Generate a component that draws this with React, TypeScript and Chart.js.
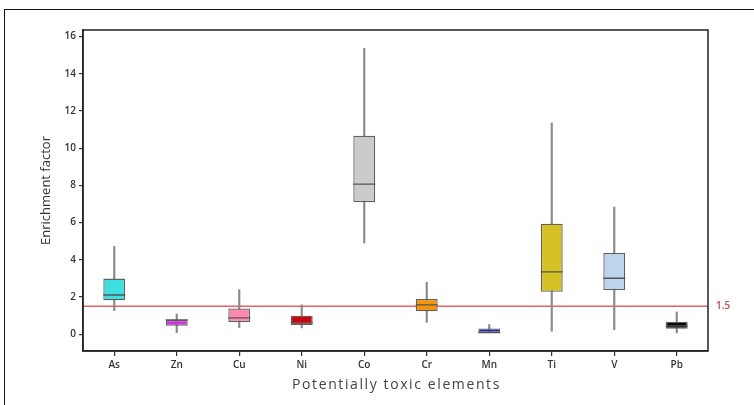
import React, { useEffect, useRef } from "react";
import { Chart, registerables } from "chart.js";

Chart.register(...registerables);

const categories = ["As", "Zn", "Cu", "Ni", "Co", "Cr", "Mn", "Ti", "V", "Pb"];
const whiskerLow = [1.27, 0.09, 0.36, 0.34, 4.9, 0.64, 0.09, 0.16, 0.25, 0.07];
const q1 = [1.83, 0.46, 0.66, 0.5, 7.1, 1.23, 0.09, 2.28, 2.38, 0.29];
const medians = [2.11, 0.77, 0.88, 0.64, 8.07, 1.58, 0.09, 3.35, 3.01, 0.45];
const q3 = [2.99, 0.77, 1.38, 1.0, 10.67, 1.9, 0.31, 5.94, 4.37, 0.67];
const whiskerHigh = [4.72, 1.09, 2.4, 1.58, 15.37, 2.79, 0.52, 11.35, 6.84, 1.2];
const boxColors = [
  "#3fdfe0",
  "#d42fe0",
  "#ff89ad",
  "#d0000e",
  "#cbcbcb",
  "#f5930b",
  "#2b2bbd",
  "#d4c224",
  "#bed3ec",
  "#0a0a0a",
];
const yTickValues = [0, 2, 4, 6, 8, 10, 12, 14, 16];
const thresholdValue = 1.5;
const thresholdLabel = "1.5";
const xTitle = "Potentially toxic elements";
const yTitle = "Enrichment factor";

const FONT = "'Open Sans', 'Noto Sans', sans-serif";

export default function App() {
  const canvasRef = useRef<HTMLCanvasElement | null>(null);

  useEffect(() => {
    document.body.style.margin = "0";
    const canvas = canvasRef.current;
    if (!canvas) return;

    const thresholdPlugin = {
      id: "thresholdLine",
      beforeDatasetsDraw(chart: any) {
        const { ctx, chartArea, scales } = chart;
        const y = scales.y.getPixelForValue(thresholdValue);
        ctx.save();
        ctx.strokeStyle = "#e46464";
        ctx.lineWidth = 1.5;
        ctx.beginPath();
        ctx.moveTo(chartArea.left, y);
        ctx.lineTo(chartArea.right, y);
        ctx.stroke();
        ctx.restore();
      },
      afterDraw(chart: any) {
        const { ctx, chartArea, scales } = chart;
        const y = scales.y.getPixelForValue(thresholdValue);
        ctx.save();
        ctx.strokeStyle = "#222";
        ctx.lineWidth = 1.5;
        ctx.strokeRect(
          chartArea.left,
          chartArea.top,
          chartArea.right - chartArea.left,
          chartArea.bottom - chartArea.top
        );
        ctx.fillStyle = "#b8504c";
        ctx.font = `600 10px ${FONT}`;
        ctx.textBaseline = "middle";
        ctx.textAlign = "left";
        ctx.fillText(thresholdLabel, chartArea.right + 8, y);

        // x-axis title with letter spacing
        ctx.fillStyle = "#444";
        ctx.font = `500 14px ${FONT}`;
        (ctx as any).letterSpacing = "1.6px";
        ctx.textAlign = "center";
        ctx.textBaseline = "middle";
        ctx.fillText(xTitle, (chartArea.left + chartArea.right) / 2 + 1, chartArea.bottom + 34);
        (ctx as any).letterSpacing = "0px";
        ctx.restore();
      },
    };

    const chart = new Chart(canvas, {
      type: "bar",
      data: {
        labels: categories,
        datasets: [
          {
            type: "line",
            label: "median",
            data: medians,
            showLine: false,
            pointStyle: "line",
            pointRadius: 11,
            pointHoverRadius: 11,
            pointBorderWidth: 1.3,
            pointBorderColor: "#555",
            borderColor: "#555",
            order: 1,
          } as any,
          {
            type: "bar",
            label: "box",
            data: categories.map((_, i) => [q1[i], q3[i]]),
            backgroundColor: boxColors,
            borderColor: "#606060",
            borderWidth: 1.3,
            borderSkipped: false,
            grouped: false,
            barPercentage: 0.35,
            categoryPercentage: 1,
            order: 2,
          } as any,
          {
            type: "bar",
            label: "whisker",
            data: categories.map((_, i) => [whiskerLow[i], whiskerHigh[i]]),
            backgroundColor: "#8a8a8a",
            borderWidth: 0,
            grouped: false,
            barThickness: 1.5,
            order: 3,
          } as any,
        ],
      },
      options: {
        animation: false,
        responsive: false,
        maintainAspectRatio: false,
        devicePixelRatio: 1,
        layout: { padding: { left: 34, right: 46, top: 30, bottom: 8 } },
        plugins: {
          legend: { display: false },
          tooltip: { enabled: false },
        },
        scales: {
          x: {
            offset: true,
            grid: {
              display: true,
              offset: false,
              drawOnChartArea: false,
              drawTicks: true,
              tickLength: 5,
              color: "#333",
              lineWidth: 1.2,
            },
            border: { display: true, color: "#222", width: 1.5 },
            ticks: {
              color: "#333",
              font: { family: FONT, size: 10, weight: "600" },
              padding: 3,
              maxRotation: 0,
            },
            title: { display: false },
            afterFit(scale: any) {
              scale.height = 46;
            },
          },
          y: {
            min: -0.9,
            max: 16.35,
            grid: {
              display: true,
              drawOnChartArea: false,
              drawTicks: true,
              tickLength: 4,
              color: "#333",
              lineWidth: 1.2,
            },
            border: { display: true, color: "#222", width: 1.5 },
            ticks: {
              color: "#333",
              font: { family: FONT, size: 10, weight: "600" },
              padding: 3,
            },
            afterBuildTicks(scale: any) {
              scale.ticks = yTickValues.map((v) => ({ value: v }));
            },
            title: {
              display: true,
              text: yTitle,
              color: "#333",
              font: { family: FONT, size: 13 },
              padding: { top: 4, bottom: 0 },
            },
            afterFit(scale: any) {
              scale.width = 49;
            },
          },
        },
      },
      plugins: [thresholdPlugin],
    } as any);

    return () => chart.destroy();
  }, []);

  return (
    <div
      style={{
        position: "fixed",
        left: 0,
        top: 0,
        width: 754,
        height: 405,
        overflow: "hidden",
        background: "#fff",
      }}
    >
      <div
        style={{
          position: "absolute",
          left: 4,
          top: 9,
          width: 780,
          height: 420,
          border: "1.5px solid #111",
          boxSizing: "border-box",
        }}
      />
      <canvas
        ref={canvasRef}
        width={754}
        height={405}
        style={{ position: "absolute", left: 0, top: 0, width: 754, height: 405 }}
      />
    </div>
  );
}
